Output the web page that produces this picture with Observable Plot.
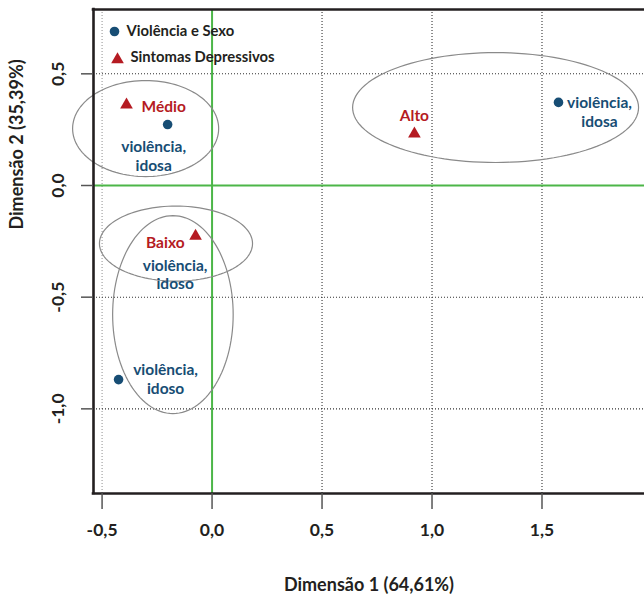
<!DOCTYPE html>
<html>
<head>
<meta charset="utf-8">
<script src="https://cdn.jsdelivr.net/npm/d3@7"></script>
<script src="https://cdn.jsdelivr.net/npm/@observablehq/plot@0.6"></script>
<style>
  html, body { margin: 0; padding: 0; background: #fff; }
  svg { font-family: Lato, "Open Sans", sans-serif; }
</style>
</head>
<body>
<div id="chart"></div>
<script>
// ---------- data ----------
const xTitle = "Dimensão 1 (64,61%)";
const yTitle = "Dimensão 2 (35,39%)";
const legendLabels = ["Violência e Sexo", "Sintomas Depressivos"];

const xTicks = [-0.5, 0, 0.5, 1.0, 1.5];
const yTicks = [-1.0, -0.5, 0, 0.5];
const xDomain = [-0.539, 1.966];
const yDomain = [-1.379, 0.788];

// Violência e Sexo (circles)
const violLabels = ["violência,\nidosa", "violência,\nidosa", "violência,\nidoso"];
const violDim1 = [-0.202, 1.575, -0.425];
const violDim2 = [0.273, 0.372, -0.869];
// label shown without a visible point
const violExtraLabel = ["violência,\nidoso"];
const violExtraDim1 = [-0.168];
const violExtraDim2 = [-0.396];

// Sintomas Depressivos (triangles)
const sintLabels = ["Médio", "Alto", "Baixo"];
const sintDim1 = [-0.389, 0.920, -0.075];
const sintDim2 = [0.361, 0.231, -0.226];

// confidence ellipses: centre and radii
const ellCx = [-0.302, 1.289, -0.164, -0.178];
const ellCy = [0.255, 0.349, -0.260, -0.578];
const ellRx = [0.332, 0.650, 0.348, 0.274];
const ellRy = [0.215, 0.246, 0.168, 0.443];

// ---------- styles / layout ----------
const blue = "#174d74";
const red = "#b51b22";
const green = "#4cb648";
const ink = "#231f20";
const labelSize = 15.5;
const violDx = [-14, 41, 47];
const violDy = [31, 9, -1];
const sintDx = [15, 0, -11];
const sintDy = [2, -18, 7];
const sintAnchor = ["start", "middle", "end"];

const viol = violLabels.map((l, i) => ({label: l, x: violDim1[i], y: violDim2[i], dx: violDx[i], dy: violDy[i]}));
const violExtra = violExtraLabel.map((l, i) => ({label: l, x: violExtraDim1[i], y: violExtraDim2[i]}));
const sint = sintLabels.map((l, i) => ({label: l, x: sintDim1[i], y: sintDim2[i], dx: sintDx[i], dy: sintDy[i], anchor: sintAnchor[i]}));

const ellPts = [];
ellCx.forEach((cx, k) => {
  for (let i = 0; i <= 120; i++) {
    const t = (i / 120) * 2 * Math.PI;
    ellPts.push({k, x: cx + ellRx[k] * Math.cos(t), y: ellCy[k] + ellRy[k] * Math.sin(t)});
  }
});

const fmt = d => d3.format(".1f")(d).replace(".", ",").replace("\u2212", "-");

const labelMarks = [];
viol.forEach(d => labelMarks.push(Plot.text([d], {x: "x", y: "y", text: "label", dx: d.dx, dy: d.dy, fill: blue, fontSize: labelSize, fontWeight: "bold", lineHeight: 1.22, lineAnchor: "middle"})));
sint.forEach(d => labelMarks.push(Plot.text([d], {x: "x", y: "y", text: "label", dx: d.dx, dy: d.dy, textAnchor: d.anchor, fill: red, fontSize: labelSize, fontWeight: "bold", lineAnchor: "middle"})));

const chart = Plot.plot({
  width: 644,
  height: 596,
  marginLeft: 93,
  marginRight: 0,
  marginTop: 9,
  marginBottom: 103,
  x: {domain: xDomain, axis: null},
  y: {domain: yDomain, axis: null},
  marks: [
    // grid
    Plot.ruleX(xTicks.filter(d => d < 0), {stroke: "#9a9a9a", strokeDasharray: "1,2", strokeWidth: 1.1}),
    Plot.ruleX(xTicks.filter(d => d > 0), {stroke: "#333", strokeDasharray: "1,2", strokeWidth: 1.1}),
    Plot.ruleY(yTicks.filter(d => d !== 0), {stroke: "#333", strokeDasharray: "1,2", strokeWidth: 1.1}),
    Plot.ruleX([0], {stroke: green, strokeWidth: 2}),
    Plot.ruleY([0], {stroke: green, strokeWidth: 2}),
    // ellipses
    Plot.line(ellPts, {x: "x", y: "y", z: "k", stroke: "#8a8a8a", strokeWidth: 1.2}),
    // frame (top, left, bottom)
    Plot.ruleY([yDomain[1]], {stroke: ink, strokeWidth: 2.6, strokeLinecap: "square"}),
    Plot.ruleY([yDomain[0]], {stroke: ink, strokeWidth: 2.6, strokeLinecap: "square"}),
    Plot.ruleX([xDomain[0]], {stroke: ink, strokeWidth: 2.6, strokeLinecap: "square"}),
    // axes
    Plot.axisX(xTicks, {anchor: "bottom", tickSize: 16, tickPadding: 14, tickFormat: fmt, fontSize: 17.5, fontWeight: "bold", stroke: "#555", fill: ink, strokeWidth: 1.5, label: null}),
    Plot.axisY(yTicks, {anchor: "left", tickSize: 12, tickFormat: () => "", stroke: "#555", strokeWidth: 1.5, label: null}),
    Plot.text(yTicks, {y: d => d, text: fmt, frameAnchor: "left", dx: -35, rotate: -90, fontSize: 17.5, fontWeight: "bold", fill: ink, lineAnchor: "middle", textAnchor: "middle"}),
    Plot.text([xTitle], {frameAnchor: "bottom", dy: 92, fontSize: 18, fontWeight: "bold", fill: ink, lineAnchor: "middle"}),
    Plot.text([yTitle], {frameAnchor: "left", dx: -76, dy: -22, rotate: -90, fontSize: 18, fontWeight: "bold", fill: ink, lineAnchor: "middle"}),
    // points
    Plot.dot(viol, {x: "x", y: "y", r: 4.8, fill: blue, symbol: "circle"}),
    Plot.dot(sint, {x: "x", y: "y", r: 4.7, fill: red, symbol: "triangle"}),
    Plot.text(violExtra, {x: "x", y: "y", text: "label", fill: blue, fontSize: labelSize, fontWeight: "bold", lineHeight: 1.22, lineAnchor: "middle"}),
    ...labelMarks,
    // legend
    Plot.dot([legendLabels[0]], {frameAnchor: "top-left", dx: 21, dy: 22, r: 4.8, fill: blue, symbol: "circle"}),
    Plot.dot([legendLabels[1]], {frameAnchor: "top-left", dx: 24, dy: 50, r: 4.7, fill: red, symbol: "triangle"}),
    Plot.text([legendLabels[0]], {frameAnchor: "top-left", dx: 33, dy: 22, text: d => d, textAnchor: "start", lineAnchor: "middle", fontSize: 14.8, fontWeight: "bold", fill: ink}),
    Plot.text([legendLabels[1]], {frameAnchor: "top-left", dx: 37, dy: 48, text: d => d, textAnchor: "start", lineAnchor: "middle", fontSize: 14.8, fontWeight: "bold", fill: ink})
  ]
});
document.getElementById("chart").appendChild(chart);
</script>
</body>
</html>
